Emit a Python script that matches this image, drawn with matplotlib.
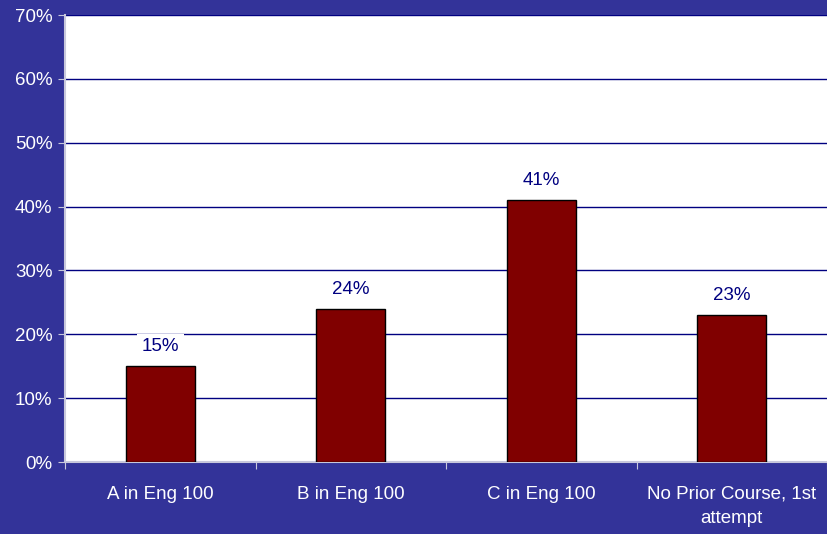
import matplotlib

matplotlib.use("Agg")
import matplotlib.pyplot as plt
import numpy as np

CATEGORIES = ["A in Eng 100", "B in Eng 100", "C in Eng 100", "No Prior Course, 1st\nattempt"]
SHARES = [15, 24, 41, 23]
Y_TICKS = [0, 10, 20, 30, 40, 50, 60, 70]

BACKDROP = "#333399"
NAVY = "#000080"
MAROON = "#800000"
SPINE = "#c8c8dc"

plt.rcParams["font.family"] = ["Liberation Sans", "DejaVu Sans"]

fig = plt.figure(figsize=(8.27, 5.34), dpi=100, facecolor=BACKDROP)
ax = fig.add_axes([0.0786, 0.1348, 0.9214, 0.8371])
ax.set_facecolor("white")

x = np.arange(len(CATEGORIES))
bars = ax.bar(x, SHARES, width=0.36, color=MAROON, edgecolor="black", linewidth=1.0, zorder=3)

ax.set_xlim(-0.5, len(CATEGORIES) - 0.5)
ax.set_ylim(0, 70)
ax.set_yticks(Y_TICKS, [f"{v}%" for v in Y_TICKS], color="white", fontsize=13.5)
ax.yaxis.grid(True, color=NAVY, linewidth=1.0, zorder=0)
ax.set_axisbelow(True)

# category labels sit between boundary ticks
ax.set_xticks(np.arange(len(CATEGORIES) + 1) - 0.5, [""] * (len(CATEGORIES) + 1))
ax.set_xticks(x, CATEGORIES, minor=True)
ax.tick_params(axis="x", which="minor", length=0, pad=17, labelcolor="white", labelsize=13.5)
ax.tick_params(axis="x", which="major", length=5, color=SPINE, direction="out")
ax.tick_params(axis="y", length=5, color=SPINE, direction="out", pad=4)
for label in ax.get_xticklabels(minor=True):
    label.set_linespacing(1.55)

for side in ("top", "right"):
    ax.spines[side].set_visible(False)
for side in ("left", "bottom"):
    ax.spines[side].set_color(SPINE)
    ax.spines[side].set_linewidth(1.5)

for rect, value in zip(bars, SHARES):
    ax.annotate(f"{value}%", (rect.get_x() + rect.get_width() / 2, value),
                xytext=(0, 14), textcoords="offset points", ha="center", va="center",
                color=NAVY, fontsize=13.5, zorder=4,
                bbox=dict(boxstyle="square,pad=0.25", facecolor="white", edgecolor="none"))

fig.savefig("out.png", dpi=100, facecolor=fig.get_facecolor())
